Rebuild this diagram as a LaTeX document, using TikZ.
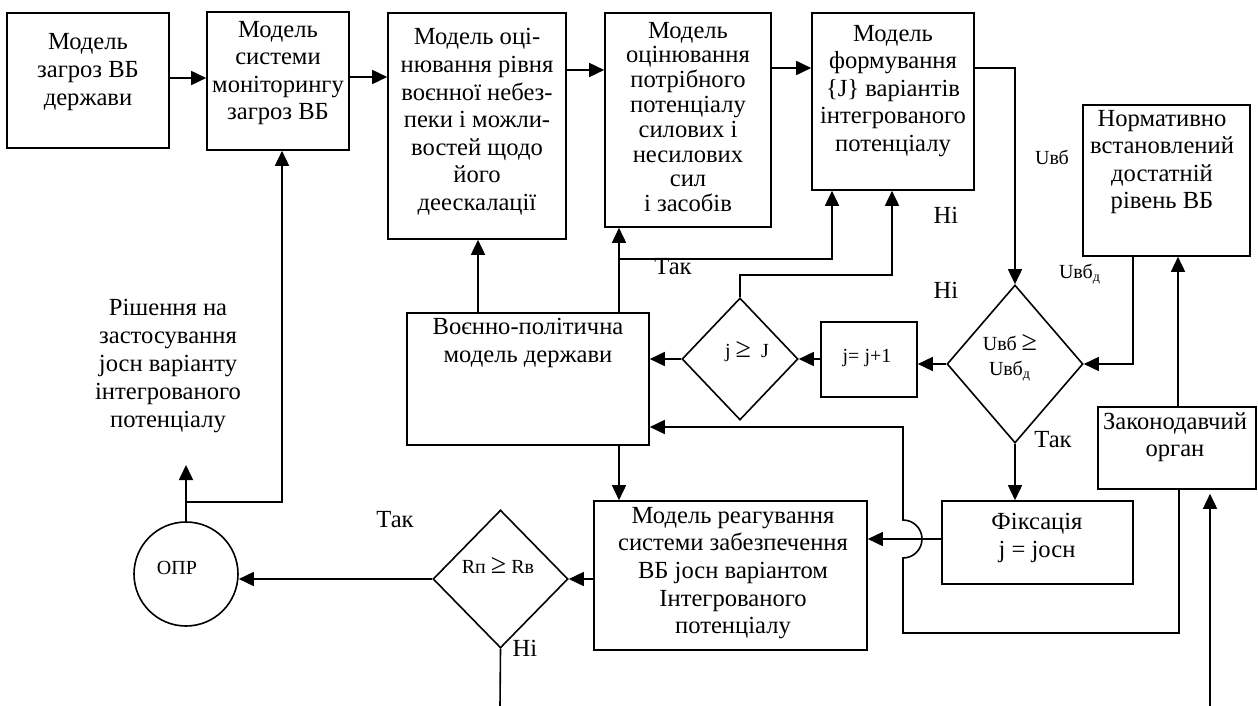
\documentclass[tikz,border=0pt]{standalone}
\usepackage{fontspec}
\setmainfont{Liberation Serif}
\usetikzlibrary{arrows.meta,shapes.geometric,fit}
\newcommand{\bigge}{{\fontsize{14}{14}\selectfont ≥}}
\begin{document}
\begin{tikzpicture}[x=0.5pt,y=-0.5pt,
  box/.style={draw, line width=0.8pt, inner sep=0pt},
  dia/.style={draw, diamond, line width=0.8pt, inner sep=0pt},
  txt/.style={align=center, inner sep=0pt, font=\fontsize{12.3}{13.8}\selectfont},
  sml/.style={align=center, inner sep=0pt, font=\fontsize{10}{12.5}\selectfont},
  arr/.style={line width=0.8pt, -{Triangle[length=7.5pt,width=7pt]}},
  ln/.style={line width=0.8pt}]
\useasboundingbox (0,0) rectangle (1258,706);

% boxes
\node[box, fit={(7,13) (169,148)}] (b1) {};
\node[box, fit={(207,12) (349,150)}] (b2) {};
\node[box, fit={(388,13) (566,239)}] (b3) {};
\node[box, fit={(605,13) (771,227)}] (b4) {};
\node[box, fit={(812,13) (974,190)}] (b5) {};
\node[box, fit={(1083,105) (1250,256)}] (b6) {};
\node[box, fit={(407,313) (649,445)}] (b7) {};
\node[box, fit={(821,322) (917,397)}] (b9) {};
\node[box, fit={(1098,407) (1256,489)}] (b11) {};
\node[box, fit={(942,501) (1133,584)}] (b12) {};
\node[box, fit={(594,501) (867,650)}] (b13) {};
\node[dia, minimum width=58pt, minimum height=61pt] (d2) at (740,359) {};
\node[dia, minimum width=68pt, minimum height=79pt] (d1) at (1015,364) {};
\node[dia, minimum width=67.5pt, minimum height=69pt] (d3) at (500.5,579) {};
\node[draw, circle, line width=0.8pt, minimum size=52pt, inner sep=0pt] (opr) at (186,574) {};

% texts
\node[txt] (t1) at (88,72) {Модель\\загроз ВБ\\держави};
\node[txt] (t2) at (278,73) {Модель\\системи\\моніторингу\\загроз ВБ};
\node[txt] (t3) at (477,122) {Модель оці-\\нювання рівня\\воєнної небез-\\пеки і можли-\\востей щодо\\його\\деескалації};
\node[txt, font=\fontsize{12.3}{12.4}\selectfont] (t4) at (688,117) {Модель\\оцінювання\\потрібного\\потенціалу\\силових і\\несилових\\сил\\і засобів};
\node[txt] (t5) at (893,91) {Модель\\формування\\\{J\} варіантів\\інтегрованого\\потенціалу};
\node[txt] (t6) at (1162,162) {Нормативно\\встановлений\\достатній\\рівень ВБ};
\node[txt] (t7) at (528,343) {Воєнно-політична\\модель держави};
\node[sml] (t8) at (747,352) {j \bigge~~J};
\node[sml] (t9) at (867,358) {j= j+1};
\node[sml] (t10) at (1010,358) {Uвб \bigge\\Uвб\textsubscript{д}};
\node[txt] (t11) at (1175,437) {Законодавчий\\орган};
\node[txt] (t12) at (1037,538) {Фіксація\\j = jосн};
\node[txt] (t13) at (733,573) {Модель реагування\\системи забезпечення\\ВБ jосн варіантом\\Інтегрованого\\потенціалу};
\node[sml] (t14) at (498,565) {Rп \bigge\ Rв};
\node[sml] (t15) at (177,568) {ОПР};
\node[txt, font=\fontsize{12.3}{14}\selectfont] (t16) at (168,366) {Рішення на\\застосування\\jосн варіанту\\інтегрованого\\потенціалу};

% labels
\node[txt] (l1) at (673,267) {Так};
\node[txt] (l2) at (395,520) {Так};
\node[txt] (l3) at (1053,440) {Так};
\node[txt] (l4) at (946,215) {Ні};
\node[txt] (l5) at (946,290) {Ні};
\node[txt] (l6) at (525,648) {Ні};
\node[sml] (l7) at (1052,157) {Uвб};
\node[sml] (l8) at (1080,274) {Uвб\textsubscript{д}};

% free ends
\coordinate (rtip) at (186,465);
\coordinate (bin) at (1210,706);
\coordinate (bout) at (500,706);

% connectors
\draw[arr] (b1.east |- 0,78) -- (b2.west |- 0,78);
\draw[arr] (b2.east |- 0,77) -- (b3.west |- 0,77);
\draw[arr] (b3.east |- 0,70) -- (b4.west |- 0,70);
\draw[arr] (b4.east |- 0,68) -- (b5.west |- 0,68);
\draw[arr] (b5.east |- 0,68) -| (d1.north);
\draw[arr] (opr.north) -- (rtip);
\draw[arr] (opr.north) |- (282,502) -- (b2.south -| 282,0);
\draw[arr] (b7.north -| 478,0) -- (b3.south -| 478,0);
\draw[arr] (b7.north -| 619,0) -- (b4.south -| 619,0);
\draw[arr] (619,259) -| (b5.south -| 832,0);
\draw[arr] (d2.north) |- (892,275) -- (b5.south -| 892,0);
\draw[arr] (d2.west) -- (b7.east |- d2.west);
\draw[arr] (b9.west |- d2.east) -- (d2.east);
\draw[arr] (d1.west) -- (b9.east |- d1.west);
\draw[arr] (b6.south -| 1133,0) |- (d1.east);
\draw[arr] (b11.north -| 1178,0) -- (b6.south -| 1178,0);
\draw[arr] (d1.south) -- (b12.north -| d1.south);
\draw[arr] (b12.west |- 0,539) -- (b13.east |- 0,539);
\draw[arr] (b11.south -| 1179,0) -- (1179,633) -- (903,633) -- (903,558)
   arc[start angle=-90, end angle=90, radius=9.5pt] -- (903,427) -- (b7.east |- 0,427);
\draw[arr, shorten >=2pt] (bin) -- (b11.south -| bin);
\draw[arr] (b7.south -| 619,0) -- (b13.north -| 619,0);
\draw[arr] (b13.west |- d3.east) -- (d3.east);
\draw[arr] (d3.west) -- (opr.east |- d3.west);
\draw[ln] (d3.south) -- (bout);
\end{tikzpicture}
\end{document}
